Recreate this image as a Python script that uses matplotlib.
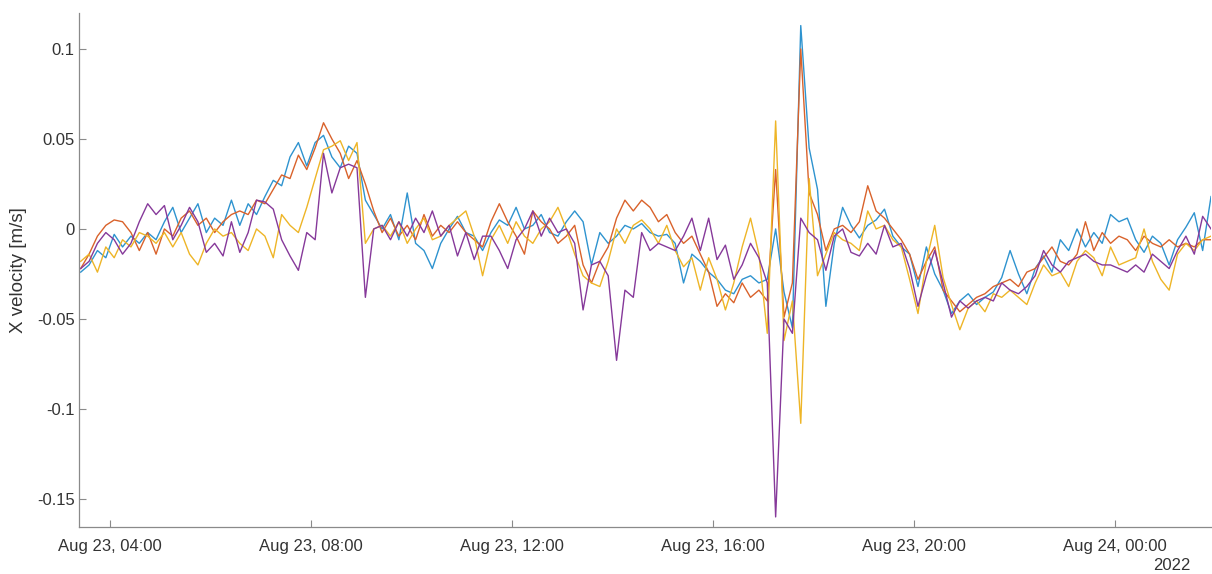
import matplotlib
matplotlib.use("Agg")
import matplotlib.pyplot as plt
import matplotlib.dates as mdates
import numpy as np
import pandas as pd

# 10-minute samples, values in mm/s
times = pd.date_range("2022-08-23 03:25", periods=136, freq="10min")

blue_mms = [
    -24, -20, -12, -16, -3, -10, -4, -8, -2, -6,
    4, 12, -2, 6, 14, -2, 6, 2, 16, 2,
    14, 8, 18, 27, 24, 40, 48, 35, 48, 52,
    40, 34, 46, 42, 16, 8, 0, 8, -6, 20,
    -8, -12, -22, -8, 0, 7, -2, -4, -12, -2,
    5, 2, 12, 0, 2, 8, -2, -4, 4, 10,
    4, -20, -2, -8, -4, 2, 0, 3, -2, -4,
    -3, -8, -30, -14, -18, -24, -28, -34, -36, -28,
    -26, -30, -28, 0, -35, -55, 113, 45, 22, -43,
    -8, 12, 2, -5, 2, 5, 11, -4, -10, -14,
    -32, -10, -25, -34, -47, -40, -36, -42, -38, -35,
    -27, -12, -25, -36, -22, -15, -24, -6, -12, 0,
    -10, -2, -8, 8, 4, 6, -6, -13, -4, -8,
    -20, -6, 1, 9, -12, 18,
]

orange_mms = [
    -22, -14, -4, 2, 5, 4, -2, -12, -2, -14,
    0, -4, 6, 10, 2, 6, -2, 4, 8, 10,
    8, 16, 14, 22, 30, 28, 41, 33, 45, 59,
    50, 42, 28, 38, 25, 10, -2, 6, -4, 2,
    -6, 8, -4, 2, -2, 4, -2, -6, -10, 4,
    14, 4, -4, -14, 10, 4, 0, -8, -4, 2,
    -20, -30, -18, -10, 6, 16, 10, 16, 12, 4,
    8, -2, -8, -4, -14, -24, -43, -36, -41, -30,
    -38, -34, -40, 33, -49, -30, 100, 20, 8, -12,
    0, 2, -2, 4, 24, 10, 6, 0, -6, -14,
    -28, -18, -10, -34, -40, -46, -42, -38, -36, -32,
    -30, -28, -32, -24, -22, -16, -10, -18, -20, -14,
    4, -12, -2, -8, -4, -6, -12, -4, -8, -10,
    -6, -10, -8, -10, -6, -6,
]

yellow_mms = [
    -18, -14, -24, -10, -16, -6, -10, -2, -4, -8,
    -2, -10, -2, -14, -20, -8, 0, -4, -2, -8,
    -12, 0, -4, -16, 8, 2, -2, 12, 28, 44,
    46, 49, 38, 48, -8, 0, 2, -4, 4, -8,
    0, 6, -6, -4, 2, 6, 10, -4, -26, -6,
    2, -8, 4, -4, -8, 0, 4, 12, 0, -14,
    -26, -30, -32, -18, 0, -8, 2, 5, 0, -8,
    2, -12, -21, -16, -34, -16, -28, -45, -30, -10,
    6, -14, -58, 60, -62, -40, -108, 28, -26, -14,
    -2, -6, -8, -12, 10, 0, 2, -6, -10, -28,
    -47, -18, 2, -27, -42, -56, -44, -40, -46, -36,
    -38, -34, -38, -42, -30, -20, -26, -24, -32, -18,
    -12, -16, -26, -10, -20, -18, -16, 0, -18, -28,
    -34, -14, -8, -12, -6, -4,
]

purple_mms = [
    -22, -18, -8, -2, -6, -14, -8, 4, 14, 8,
    13, -6, 2, 12, 4, -13, -8, -15, 4, -13,
    -2, 16, 15, 11, -6, -15, -23, -2, -6, 42,
    20, 34, 36, 34, -38, 0, 2, -6, 4, -4,
    6, -2, 10, -4, 2, -15, -2, -17, -4, -4,
    -12, -22, -6, 0, 10, -4, 6, -2, 0, -8,
    -45, -20, -18, -26, -73, -34, -38, -2, -12, -8,
    -10, -12, -4, 6, -12, 6, -17, -9, -28, -20,
    -8, -16, -30, -160, -50, -58, 6, -2, -6, -23,
    -4, 0, -13, -15, -8, -14, 2, -10, -8, -22,
    -43, -26, -12, -30, -49, -40, -44, -40, -38, -40,
    -30, -34, -36, -32, -26, -12, -20, -24, -18, -16,
    -14, -18, -20, -20, -22, -24, -20, -24, -14, -18,
    -22, -12, -4, -14, 7, 0,
]

series = [blue_mms, orange_mms, yellow_mms, purple_mms]
colors = ["#2e93cf", "#d9622b", "#eeb527", "#86399a"]

y_ticks = [-0.15, -0.1, -0.05, 0, 0.05, 0.1]
x_ticks = pd.date_range("2022-08-23 04:00", "2022-08-24 00:00", freq="4h")

plt.rcParams["font.family"] = ["Liberation Sans", "DejaVu Sans"]
plt.rcParams["axes.unicode_minus"] = False

fig = plt.figure(figsize=(12.12, 5.74), dpi=100)
ax = fig.add_axes([0.0652, 0.0819, 0.934, 0.8955])

for vals, c in zip(series, colors):
    ax.plot(times, np.array(vals) / 1000.0, color=c, linewidth=1.0)

ax.set_xlim(pd.Timestamp("2022-08-23 03:23"), pd.Timestamp("2022-08-24 01:55"))
ax.set_ylim(-0.1656, 0.12)

ax.set_yticks(y_ticks)
ax.set_yticklabels([f"{v:g}" for v in y_ticks])
ax.set_xticks(x_ticks)
ax.xaxis.set_major_formatter(mdates.DateFormatter("%b %d, %H:%M"))

ax.spines["top"].set_visible(False)
ax.spines["right"].set_visible(False)
for s in ("left", "bottom"):
    ax.spines[s].set_color("#8a8a8a")
    ax.spines[s].set_linewidth(0.9)

ax.tick_params(direction="in", length=5, width=0.8, color="#8a8a8a",
               labelcolor="#333333", labelsize=12)
ax.tick_params(axis="x", pad=9)
ax.tick_params(axis="y", pad=3)

ax.set_ylabel("X velocity [m/s]", fontsize=13.5, color="#333333")
ax.yaxis.set_label_coords(-0.046, 0.5)

fig.text(1190 / 1212, 1 - 566 / 574, "2022", ha="right", va="center",
         fontsize=12, color="#333333")

fig.savefig("out.png", dpi=100)
